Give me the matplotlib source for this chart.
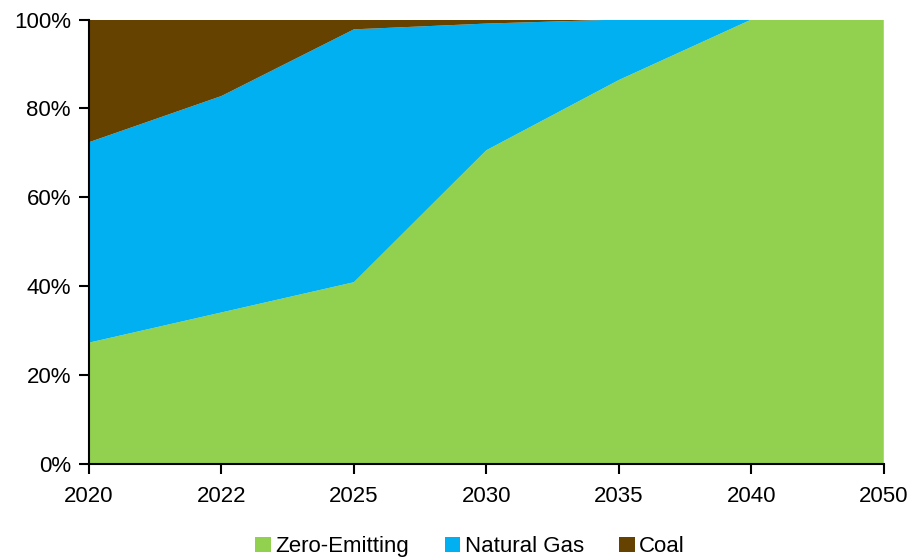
import matplotlib
matplotlib.use("Agg")
import matplotlib.pyplot as plt
from matplotlib.ticker import PercentFormatter
from matplotlib.patches import Patch

years = ["2020", "2022", "2025", "2030", "2035", "2040", "2050"]
zero_emitting = [27.3, 34.1, 40.9, 70.6, 86.4, 100.0, 100.0]
natural_gas = [45.1, 48.7, 56.9, 28.5, 13.6, 0.0, 0.0]
coal = [27.6, 17.2, 2.2, 0.9, 0.0, 0.0, 0.0]

colors = ["#92D050", "#00B0F0", "#664200"]
labels = ["Zero-Emitting", "Natural Gas", "Coal"]

plt.rcParams['font.family'] = ['Liberation Sans', 'DejaVu Sans']

fig = plt.figure(figsize=(9.13, 5.59), dpi=100)
ax = fig.add_axes([0.0975, 0.170, 0.8705, 0.795])
x = list(range(len(years)))
ax.stackplot(x, zero_emitting, natural_gas, coal, colors=colors, linewidth=0)
ax.set_xlim(0, len(years) - 1)
ax.set_ylim(0, 100)
ax.set_xticks(x)
ax.set_xticklabels(years)
ax.set_yticks([0, 20, 40, 60, 80, 100])
ax.yaxis.set_major_formatter(PercentFormatter(decimals=0))
for s in ["top", "right"]:
    ax.spines[s].set_visible(False)
for s in ["left", "bottom"]:
    ax.spines[s].set_linewidth(1.5)
    ax.spines[s].set_zorder(5)
ax.tick_params(axis="both", labelsize=16, width=1.5, length=7, direction="out")
ax.tick_params(axis="x", pad=9)
ax.tick_params(axis="y", pad=6)

handles = [Patch(facecolor=c, edgecolor="none") for c in colors]
fig.legend(handles, labels, loc="center", bbox_to_anchor=(0.515, 0.022), ncol=3,
           frameon=False, fontsize=16, handlelength=0.7, handleheight=0.7,
           handletextpad=0.2, columnspacing=1.6)
fig.savefig("out.png", dpi=100)
